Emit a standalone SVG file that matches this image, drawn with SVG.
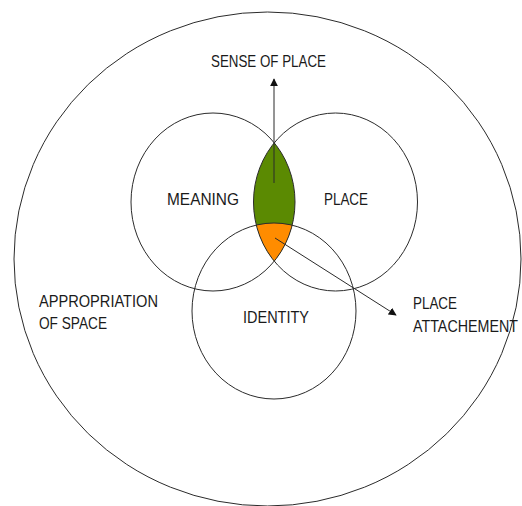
<svg xmlns="http://www.w3.org/2000/svg" width="522" height="506" viewBox="0 0 522 506">
<style>
.ln{fill:none;stroke:#2b2b2b;stroke-width:1}
.t{font-family:"Liberation Sans",Arial,sans-serif;font-size:16.5px;fill:#1a1a1a}
</style>
<defs>
<marker id="ah" viewBox="0 0 10 10" refX="9" refY="5" markerWidth="8" markerHeight="8" markerUnits="userSpaceOnUse" orient="auto">
<path d="M0,0 L10,5 L0,10 z" fill="#111"/>
</marker>
<clipPath id="cM"><ellipse cx="213" cy="202" rx="82" ry="89"/></clipPath>
<clipPath id="cP"><ellipse cx="335.5" cy="202" rx="82" ry="89"/></clipPath>
</defs>
<rect width="522" height="506" fill="#fff"/>
<g id="appropriation">
<ellipse class="ln" cx="267.5" cy="259" rx="253.5" ry="247"/>
<text class="t" x="39" y="307" textLength="119" lengthAdjust="spacingAndGlyphs">APPROPRIATION</text>
<text class="t" x="39" y="329" textLength="68" lengthAdjust="spacingAndGlyphs">OF SPACE</text>
</g>
<g id="sense-of-place">
<g clip-path="url(#cP)"><ellipse cx="213" cy="202" rx="82" ry="89" fill="#5B8A02"/></g>
</g>
<g id="place-attachement">
<g clip-path="url(#cP)"><ellipse cx="274" cy="311" rx="82" ry="88" fill="#FF8C00" clip-path="url(#cM)"/></g>
</g>
<g id="meaning">
<ellipse class="ln" cx="213" cy="202" rx="82" ry="89"/>
<text class="t" x="203" y="205" text-anchor="middle" textLength="72" lengthAdjust="spacingAndGlyphs">MEANING</text>
</g>
<g id="place">
<ellipse class="ln" cx="335.5" cy="202" rx="82" ry="89"/>
<text class="t" x="346" y="205" text-anchor="middle" textLength="44" lengthAdjust="spacingAndGlyphs">PLACE</text>
</g>
<g id="identity">
<ellipse class="ln" cx="274" cy="311" rx="82" ry="88"/>
<text class="t" x="276" y="323" text-anchor="middle" textLength="66" lengthAdjust="spacingAndGlyphs">IDENTITY</text>
</g>
<g id="labels">
<text class="t" x="268.5" y="67" text-anchor="middle" textLength="115" lengthAdjust="spacingAndGlyphs">SENSE OF PLACE</text>
<text class="t" x="413" y="309" textLength="44" lengthAdjust="spacingAndGlyphs">PLACE</text>
<text class="t" x="413" y="332" textLength="105" lengthAdjust="spacingAndGlyphs">ATTACHEMENT</text>
</g>
<g id="connectors">
<line class="ln" x1="274" y1="183" x2="274" y2="79" marker-end="url(#ah)"/>
<line class="ln" x1="275" y1="238" x2="396" y2="315" marker-end="url(#ah)"/>
</g>
</svg>
